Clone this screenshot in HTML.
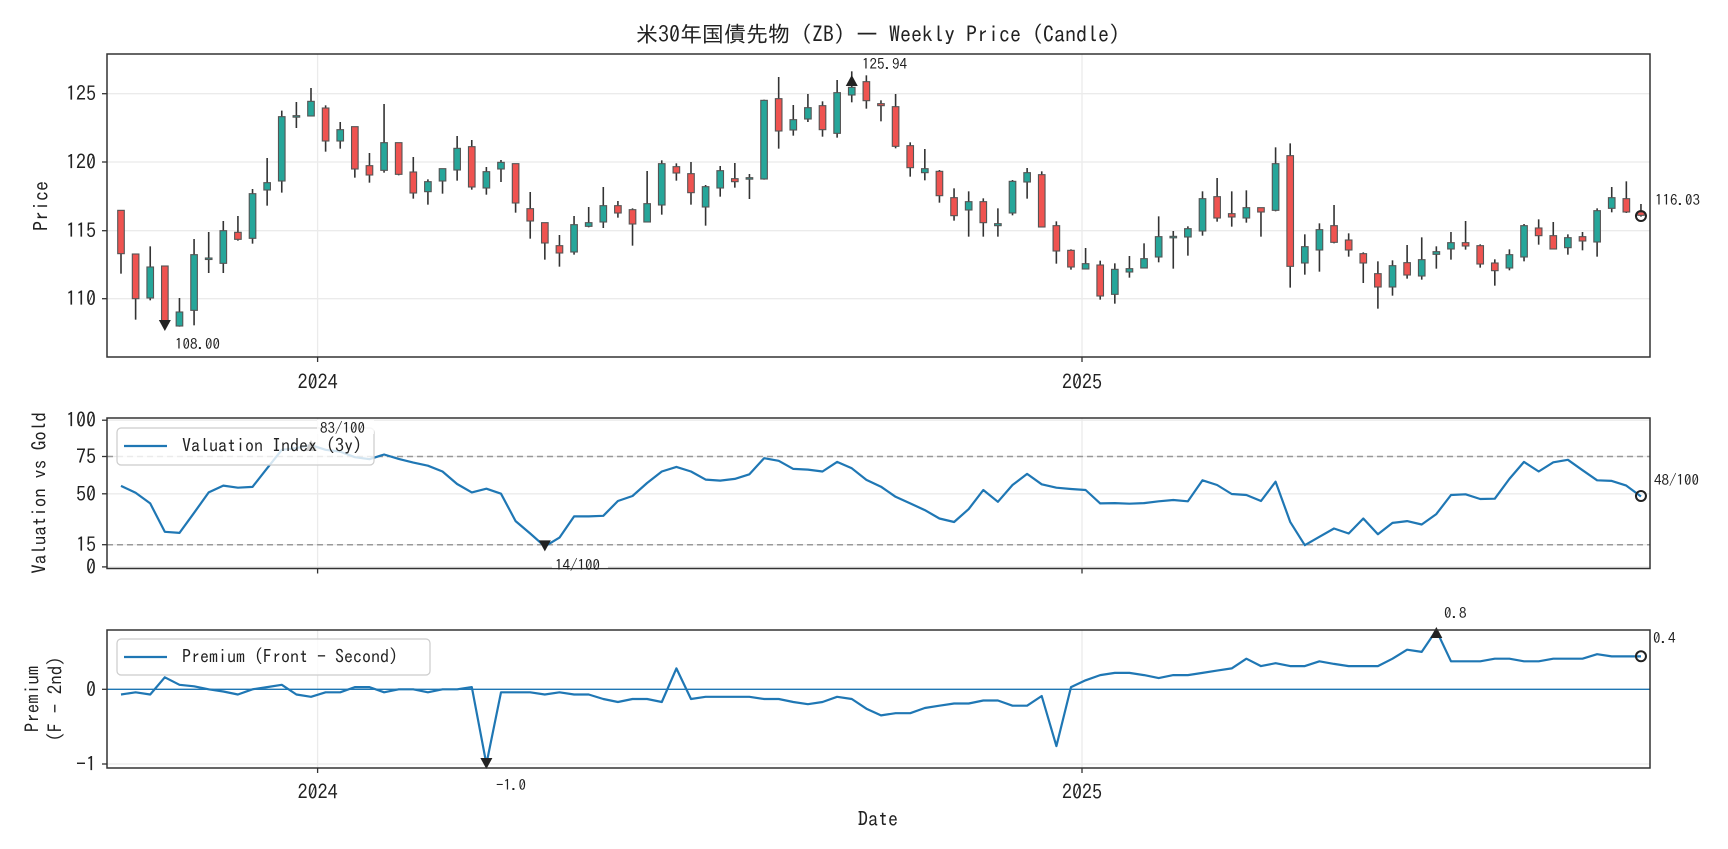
<!DOCTYPE html>
<html><head><meta charset="utf-8">
<style>
html,body{margin:0;padding:0;background:#fff;}
svg{display:block;}
text{font-family:"IPAGothic","Noto Sans CJK JP",sans-serif;fill:#222;}
</style></head>
<body>
<svg id="s" width="1728" height="849" viewBox="0 0 1728 849" xmlns="http://www.w3.org/2000/svg">
<rect width="1728" height="849" fill="#fff"/>
<g id="grid"></g>
<g id="plot"></g>
<g id="under"></g>
<!-- legends -->
<rect x="117" y="428" width="257" height="37" rx="4" fill="#fff" fill-opacity="0.8" stroke="#ccc" stroke-width="1.2"/>
<line x1="124" y1="446" x2="167" y2="446" stroke="#1f77b4" stroke-width="2.2"/>
<text x="182" y="452" font-size="18">Valuation Index (3y)</text>
<rect x="117" y="639" width="313" height="36" rx="4" fill="#fff" fill-opacity="0.8" stroke="#ccc" stroke-width="1.2"/>
<line x1="124" y1="657" x2="167" y2="657" stroke="#1f77b4" stroke-width="2.2"/>
<text x="182" y="663" font-size="18">Premium (Front - Second)</text>
<g id="ann"></g>
<!-- spines -->
<rect x="107" y="54" width="1543" height="303" fill="none" stroke="#333" stroke-width="1.5"/>
<rect x="107" y="418" width="1543" height="150.5" fill="none" stroke="#333" stroke-width="1.5"/>
<rect x="107" y="630" width="1543" height="138" fill="none" stroke="#333" stroke-width="1.5"/>
<!-- title -->
<text x="878" y="42" font-size="22" text-anchor="middle">米30年国債先物 (ZB) — Weekly Price (Candle)</text>
<!-- price ticks -->
<g font-size="20" text-anchor="end">
<text x="96" y="100.7">125</text>
<text x="96" y="169">120</text>
<text x="96" y="237.7">115</text>
<text x="96" y="305.7">110</text>
<text x="96" y="427">100</text>
<text x="96" y="463.5">75</text>
<text x="96" y="500.8">50</text>
<text x="96" y="551.7">15</text>
<text x="96" y="573.9">0</text>
<text x="96" y="696.3">0</text>
<text x="96" y="771">-1</text>
</g>
<g font-size="20" text-anchor="middle">
<text x="317.6" y="389">2024</text>
<text x="1082" y="389">2025</text>
<text x="317.6" y="799">2024</text>
<text x="1082" y="799">2025</text>
<text x="878" y="826">Date</text>
</g>
<text transform="translate(48,206) rotate(-90)" font-size="20" text-anchor="middle">Price</text>
<text transform="translate(46,493) rotate(-90)" font-size="19" text-anchor="middle">Valuation vs Gold</text>
<text transform="translate(39,699) rotate(-90)" font-size="19" text-anchor="middle">Premium</text>
<text transform="translate(62,699) rotate(-90)" font-size="19" text-anchor="middle">(F - 2nd)</text>
<!-- annotation labels -->
<g font-size="15" fill="#555">
<text x="175" y="349" fill="#555">108.00</text>
<rect x="859" y="55" width="52" height="16" fill="#fff" fill-opacity="0.8"/>
<text x="862" y="69" fill="#555">125.94</text>
<text x="1655" y="205" fill="#555">116.03</text>
<rect x="317" y="420" width="57" height="14" fill="#fff" fill-opacity="0.8"/>
<text x="320" y="433" fill="#555">83/100</text>
<rect x="552" y="558" width="56" height="10" fill="#fff" fill-opacity="0.8"/>
<text x="555" y="570" fill="#555">14/100</text>
<text x="1654" y="485" fill="#555">48/100</text>
<text x="496" y="790" fill="#555">-1.0</text>
<text x="1444" y="618" fill="#555">0.8</text>
<text x="1653" y="643" fill="#555">0.4</text>
</g>
</svg>
<script>
(function(){
var NS="http://www.w3.org/2000/svg";
function el(p,t,a){var e=document.createElementNS(NS,t);for(var k in a)e.setAttribute(k,a[k]);p.appendChild(e);return e;}
var G=document.getElementById('grid'),P=document.getElementById('plot'),A=document.getElementById('ann'),U=document.getElementById('under');
var gc="#ebebeb";
[93.7,162,230.7,298.7].forEach(function(y){el(G,'line',{x1:107,x2:1650,y1:y,y2:y,stroke:gc,'stroke-width':1.3});});
[420.2,456.5,493.8,544.7,566.9].forEach(function(y){el(G,'line',{x1:107,x2:1650,y1:y,y2:y,stroke:gc,'stroke-width':1.3});});
[689.3,764].forEach(function(y){el(G,'line',{x1:107,x2:1650,y1:y,y2:y,stroke:gc,'stroke-width':1.3});});
[317.6,1082].forEach(function(x){
 [[54,357],[418,568.5],[630,768]].forEach(function(r){el(G,'line',{x1:x,x2:x,y1:r[0],y2:r[1],stroke:gc,'stroke-width':1.3});});
 [357,568.5,768].forEach(function(y){el(G,'line',{x1:x,x2:x,y1:y,y2:y+5,stroke:'#333','stroke-width':1.3});});
});
[93.7,162,230.7,298.7,420.2,456.5,493.8,544.7,566.9,689.3,764].forEach(function(y){el(G,'line',{x1:102,x2:107,y1:y,y2:y,stroke:'#333','stroke-width':1.3});});
[456.5,544.7].forEach(function(y){el(G,'line',{x1:107,x2:1650,y1:y,y2:y,stroke:'#999','stroke-width':1.5,'stroke-dasharray':'6,4'});});
el(G,'line',{x1:107,x2:1650,y1:689.3,y2:689.3,stroke:'#1f77b4','stroke-width':1.3});
function X(i){return 121+14.615*i;}
var C=[[487,617,487,677,'r'],[618,752,618,815,'r'],[657,750,595,757,'g'],[654,826,654,834,'r'],[792,834,750,836,'g'],[620,787,573,832,'g'],[630,634,552,675,'g'],[548,646,519,675,'g'],[553,574,504,578,'r'],[437,571,423,587,'g'],
[404,426,330,473,'g'],[206,399,188,434,'g'],[203,207,162,240,'g'],[160,204,120,204,'g'],[180,279,172,311,'r'],[245,279,222,302,'g'],[236,363,236,389,'r'],[353,381,315,404,'r'],[284,367,168,374,'g'],[284,379,284,382,'r'],
[372,435,327,452,'r'],[401,431,394,470,'g'],[362,399,362,437,'g'],[301,366,264,398,'g'],[296,417,276,425,'r'],[371,420,357,440,'g'],[343,363,336,402,'g'],[347,465,347,494,'r'],[482,519,432,572,'r'],[524,585,524,635,'r'],
[593,615,561,656,'r'],[530,612,504,620,'g'],[524,535,477,538,'g'],[473,522,417,540,'g'],[473,495,459,509,'r'],[485,528,481,593,'r'],[467,522,369,522,'g'],[347,471,337,500,'g'],[356,375,346,398,'r'],[377,434,342,470,'r'],
[416,477,411,533,'g'],[368,420,354,446,'g'],[392,401,345,419,'r'],[389,393,378,453,'g'],[157,393,155,395,'g'],[152,249,87,302,'r'],[215,246,171,263,'g'],[179,213,138,222,'g'],[173,245,160,266,'r'],[134,256,96,269,'g'],
[118,141,70,163,'g'],[101,158,82,182,'r'],[167,173,157,220,'r'],[176,295,138,301,'r'],[293,359,283,386,'r'],[362,374,303,397,'g'],[370,443,366,464,'r'],[449,503,421,518,'r'],[461,486,430,566,'g'],[461,524,451,566,'r'],
[527,533,481,566,'g'],[400,495,396,502,'g'],[374,402,360,452,'g'],[380,537,370,538,'r'],[533,609,520,647,'r'],[607,657,604,665,'r'],[647,663,600,663,'g'],[651,744,638,755,'r'],[664,739,646,767,'g'],[662,672,624,689,'g'],
[632,660,586,660,'g'],[566,627,505,643,'g'],[565,569,549,662,'g'],[542,567,535,623,'g'],[452,549,430,563,'g'],[446,510,390,521,'r'],[497,507,430,536,'r'],[479,510,427,524,'g'],[479,492,479,566,'r'],[347,487,298,490,'g'],
[323,655,286,719,'r'],[596,645,559,680,'g'],[545,606,526,671,'g'],[533,583,471,586,'r'],[576,606,556,626,'r'],[617,645,613,705,'r'],[677,717,640,782,'r'],[653,717,637,743,'g'],[644,681,591,692,'r'],[635,684,568,695,'g'],
[611,619,595,662,'g'],[584,603,552,635,'g'],[584,594,519,605,'r'],[593,648,589,659,'r'],[645,668,634,713,'r'],[620,660,604,667,'g'],[533,627,528,640,'g'],[540,563,514,590,'r'],[563,603,522,603,'r'],[569,599,559,620,'g'],
[566,579,552,607,'r'],[488,582,481,626,'g'],[449,481,417,493,'g'],[452,492,400,495,'r'],[492,502,468,506,'r']];
C.forEach(function(c,i){
 var x=X(i),Y=function(z){return 48+z/3;};
 el(P,'line',{x1:x,x2:x,y1:Y(c[2]),y2:Y(c[3]),stroke:'#333','stroke-width':1.6});
 var t=Y(c[0]),b=Y(c[1]);if(b-t<1.5){b=t+1.5;}
 el(P,'rect',{x:x-3.3,y:t,width:6.6,height:b-t,fill:c[4]=='r'?'#ef5350':'#26a69a',stroke:'#555','stroke-width':1.1});
});
var V=[55.2,50.6,43.3,23.9,23.2,36.9,50.8,55.4,54,54.5,67.2,79.8,81,83,79.8,78.6,74.8,73.4,76.6,73.6,71.1,69,65,56.5,50.8,53.3,49.9,31.2,22.8,14,20,34.4,34.4,34.8,44.9,48.3,57.2,65,68.2,65,59.5,58.8,60,63.1,74.1,72.3,66.8,66.3,65,71.6,67.2,59.3,54.7,47.8,43.3,38.7,33,30.6,39.4,52.4,44.4,55.8,63.4,56.3,54,53.1,52.4,43.3,43.5,43.1,43.5,44.7,45.6,44.7,59,55.8,49.7,49,44.9,58.1,30.7,14.8,20.5,26.2,22.8,33,22.3,30,31.2,28.9,36,49,49.5,46.3,46.5,60,71.6,65,71.3,73,65.9,59,58.6,55.4,48];
var pts=V.map(function(v,i){return X(i).toFixed(1)+','+(566.9-v*1.467).toFixed(1);}).join(' ');
el(P,'polyline',{points:pts,fill:'none',stroke:'#1f77b4','stroke-width':2.2,'stroke-linejoin':'round'});
var Pr=[-0.07,-0.04,-0.07,0.16,0.06,0.04,0,-0.03,-0.07,0,0.03,0.06,-0.07,-0.1,-0.04,-0.04,0.03,0.03,-0.04,0,0,-0.04,0,0,0.03,-1.0,-0.04,-0.04,-0.04,-0.07,-0.04,-0.07,-0.07,-0.13,-0.17,-0.13,-0.13,-0.17,0.28,-0.13,-0.1,-0.1,-0.1,-0.1,-0.13,-0.13,-0.17,-0.2,-0.17,-0.1,-0.13,-0.26,-0.35,-0.32,-0.32,-0.25,-0.22,-0.19,-0.19,-0.15,-0.15,-0.22,-0.22,-0.09,-0.76,0.03,0.12,0.19,0.22,0.22,0.19,0.15,0.19,0.19,0.22,0.25,0.28,0.41,0.31,0.35,0.31,0.31,0.375,0.34,0.31,0.31,0.31,0.41,0.53,0.5,0.79,0.375,0.375,0.375,0.41,0.41,0.375,0.375,0.41,0.41,0.41,0.47,0.44,0.44,0.44];
pts=Pr.map(function(v,i){return X(i).toFixed(1)+','+(689.3-v*74.7).toFixed(1);}).join(' ');
el(P,'polyline',{points:pts,fill:'none',stroke:'#1f77b4','stroke-width':2.2,'stroke-linejoin':'round'});
function down(p,x,y){el(p,'polygon',{points:(x-6)+','+(y-6)+' '+(x+6)+','+(y-6)+' '+x+','+(y+5),fill:'#222'});}
function up(p,x,y){el(p,'polygon',{points:(x-6)+','+(y+6)+' '+(x+6)+','+(y+6)+' '+x+','+(y-5),fill:'#222'});}
function circ(x,y){el(A,'circle',{cx:x,cy:y,r:5,fill:'none',stroke:'#222','stroke-width':2});}
down(A,X(3),326);up(A,X(50),80);circ(X(104),216);
up(U,X(13),445);down(A,X(29),546.4);circ(X(104),496);
down(A,X(25),764);up(A,X(90),632);circ(X(104),656.3);
})();
</script>
</body></html>
